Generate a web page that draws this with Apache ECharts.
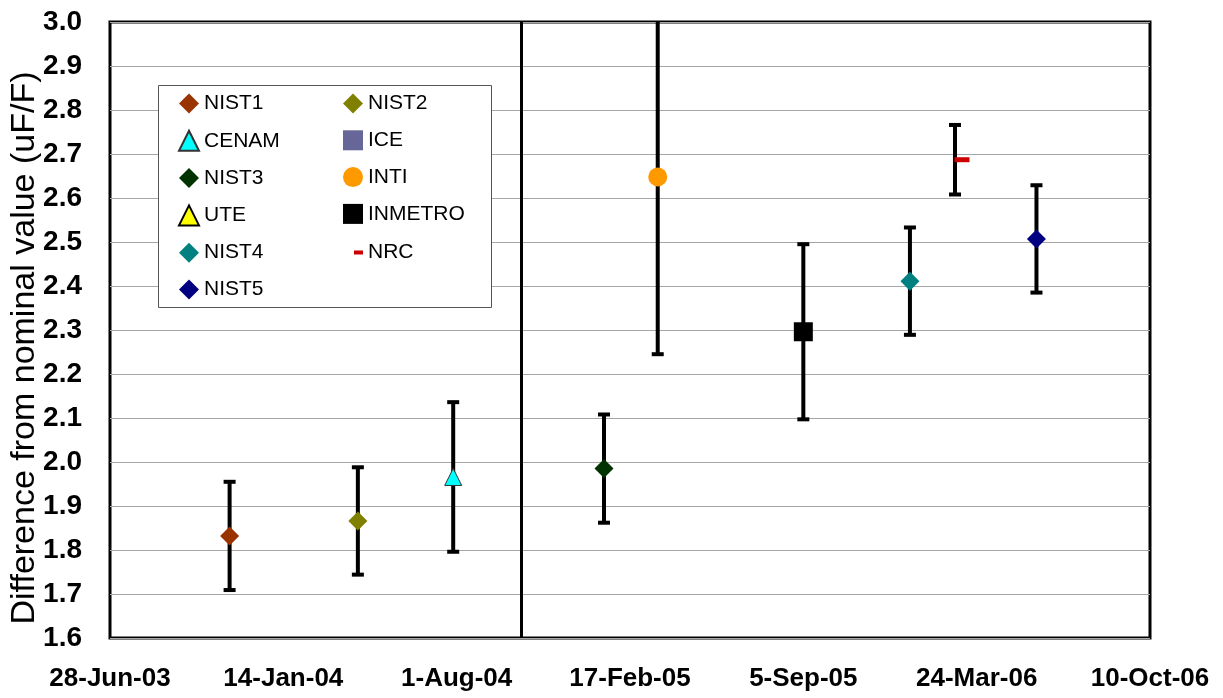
<!DOCTYPE html>
<html><head><meta charset="utf-8">
<script src="https://cdn.jsdelivr.net/npm/echarts@6/dist/echarts.min.js"></script>
<style>html,body{margin:0;padding:0;background:#fff}#c{width:1223px;height:698px}</style>
</head><body><div id="c"></div>
<script>
// ---- data ----
const labs   = ['NIST1','NIST2','CENAM','ICE','NIST3','INTI','UTE','INMETRO','NIST4','NRC','NIST5'];
const dates  = ['2003-11-13','2004-04-09','2004-07-28',null,'2005-01-18','2005-03-21',null,'2005-09-05','2006-01-06','2006-02-27','2006-06-01'];
const values = [1.832,1.866,1.966,null,1.985,2.648,null,2.296,2.411,2.687,2.507];
const uncert = [0.123,0.122,0.170,null,0.123,0.403,null,0.199,0.122,0.079,0.122];
const xTickLabels = ['28-Jun-03','14-Jan-04','1-Aug-04','17-Feb-05','5-Sep-05','24-Mar-06','10-Oct-06'];
const xStart = '2003-06-28', xEnd = '2006-10-10', xStepDays = 200;
const separatorDate = '2004-10-14';
const yMin = 1.6, yMax = 3.0, yStep = 0.1;
const yTitle = 'Difference from nominal value (uF/F)';

// ---- styles ----
const styles = {
  NIST1:  {symbol:'diamond',  size:19, color:'#993300'},
  NIST2:  {symbol:'diamond',  size:19, color:'#808000'},
  CENAM:  {symbol:'triangle', size:17, color:'#00FFFF', border:'#333333'},
  ICE:    {symbol:'rect',     size:16, color:'#666699'},
  NIST3:  {symbol:'diamond',  size:19, color:'#003300'},
  INTI:   {symbol:'circle',   size:19, color:'#FF9900'},
  UTE:    {symbol:'triangle', size:17, color:'#FFFF00', border:'#000000'},
  INMETRO:{symbol:'rect',     size:19, color:'#000000'},
  NIST4:  {symbol:'diamond',  size:19, color:'#008080'},
  NRC:    {symbol:'rect',     size:[15,5], color:'#CC0000', offset:[7,0]},
  NIST5:  {symbol:'diamond',  size:19, color:'#000080'}
};

function serial(iso){ return Math.round((Date.parse(iso+'T00:00:00Z') - Date.UTC(1899,11,30))/86400000); }
const xMin = serial(xStart), xMax = serial(xEnd), xStep = xStepDays;
const FONT = 'Liberation Sans, Arial, sans-serif';

const series = [];
const errData = [];
labs.forEach((name,i)=>{
  const st = styles[name];
  const data = dates[i] ? [[serial(dates[i]), values[i]]] : [];
  if (dates[i]) errData.push([serial(dates[i]), values[i]-uncert[i], values[i]+uncert[i]]);
  const s = {
    name, type:'scatter', data, z:5,
    symbol: st.symbol, symbolSize: st.size,
    itemStyle: {color: st.color, borderColor: st.border || st.color, borderWidth: st.border ? 1 : 0, opacity:1},
    emphasis:{disabled:true}
  };
  if (st.offset) s.symbolOffset = st.offset;
  series.push(s);
});
series.push({
  name:'errorbars', type:'custom', clip:true, z:3, data: errData,
  encode:{x:0, y:[1,2]},
  renderItem(params, api){
    const x = api.value(0), lo = api.value(1), hi = api.value(2);
    const p1 = api.coord([x, lo]), p2 = api.coord([x, hi]);
    const w = 6, ls = {stroke:'#000', lineWidth:4};
    return {type:'group', children:[
      {type:'line', shape:{x1:p1[0],y1:p1[1],x2:p2[0],y2:p2[1]}, style:ls},
      {type:'line', shape:{x1:p1[0]-w,y1:p1[1],x2:p1[0]+w,y2:p1[1]}, style:ls},
      {type:'line', shape:{x1:p2[0]-w,y1:p2[1],x2:p2[0]+w,y2:p2[1]}, style:ls}
    ]};
  },
  markLine:{
    silent:true, symbol:'none', label:{show:false},
    lineStyle:{color:'#000', width:3, type:'solid'},
    data:[{xAxis: serial(separatorDate)}]
  }
});

const legendText = {fontSize:21, lineHeight:21, color:'#000', fontFamily:FONT};
const chart = echarts.init(document.getElementById('c'), null, {renderer:'canvas'});
chart.setOption({
  animation:false,
  backgroundColor:'#fff',
  grid:{left:110, right:73, top:22, bottom:60, outerBoundsMode:'none', containLabel:false,
    show:true, borderColor:'#000', borderWidth:3, backgroundColor:'transparent'},
  xAxis:{
    type:'value', min:xMin, max:xMax, interval:xStep,
    axisLine:{show:false}, axisTick:{show:false}, splitLine:{show:false},
    axisLabel:{fontSize:26, fontWeight:'bold', color:'#000', fontFamily:FONT, margin:28,
      formatter: v => xTickLabels[Math.round((v - xMin)/xStep)] || ''}
  },
  yAxis:{
    type:'value', min:yMin, max:yMax, interval:yStep,
    name: yTitle, nameLocation:'middle', nameGap:68, nameMoveOverlap:false,
    nameTextStyle:{fontSize:34, color:'#000', fontFamily:FONT, padding:[0,36,0,0]},
    axisLine:{show:false}, axisTick:{show:false},
    splitLine:{show:true, lineStyle:{color:'#a6a6a6', width:1}},
    axisLabel:{fontSize:28, fontWeight:'bold', color:'#000', fontFamily:FONT, margin:28,
      formatter: v => v.toFixed(1)}
  },
  graphic:[{type:'rect', left:158, top:85, z:10, shape:{width:333, height:222},
    style:{fill:'#fff', stroke:'#555', lineWidth:1}}],
  legend:[
    {data:['NIST1','CENAM','NIST3','UTE','NIST4','NIST5'], orient:'vertical', left:178, top:93, padding:0,
     itemWidth:20, itemHeight:20, itemGap:15.8, textStyle:legendText, selectedMode:false, z:20},
    {data:['NIST2','ICE','INTI','INMETRO'], orient:'vertical', left:343, top:93, padding:0,
     itemWidth:20, itemHeight:20, itemGap:15.8, textStyle:legendText, selectedMode:false, z:20},
    {data:['NRC'], orient:'vertical', left:354, top:242, padding:0,
     itemWidth:9, itemHeight:4, itemGap:16, textStyle:legendText, selectedMode:false, z:20}
  ],
  series
});
</script></body></html>
